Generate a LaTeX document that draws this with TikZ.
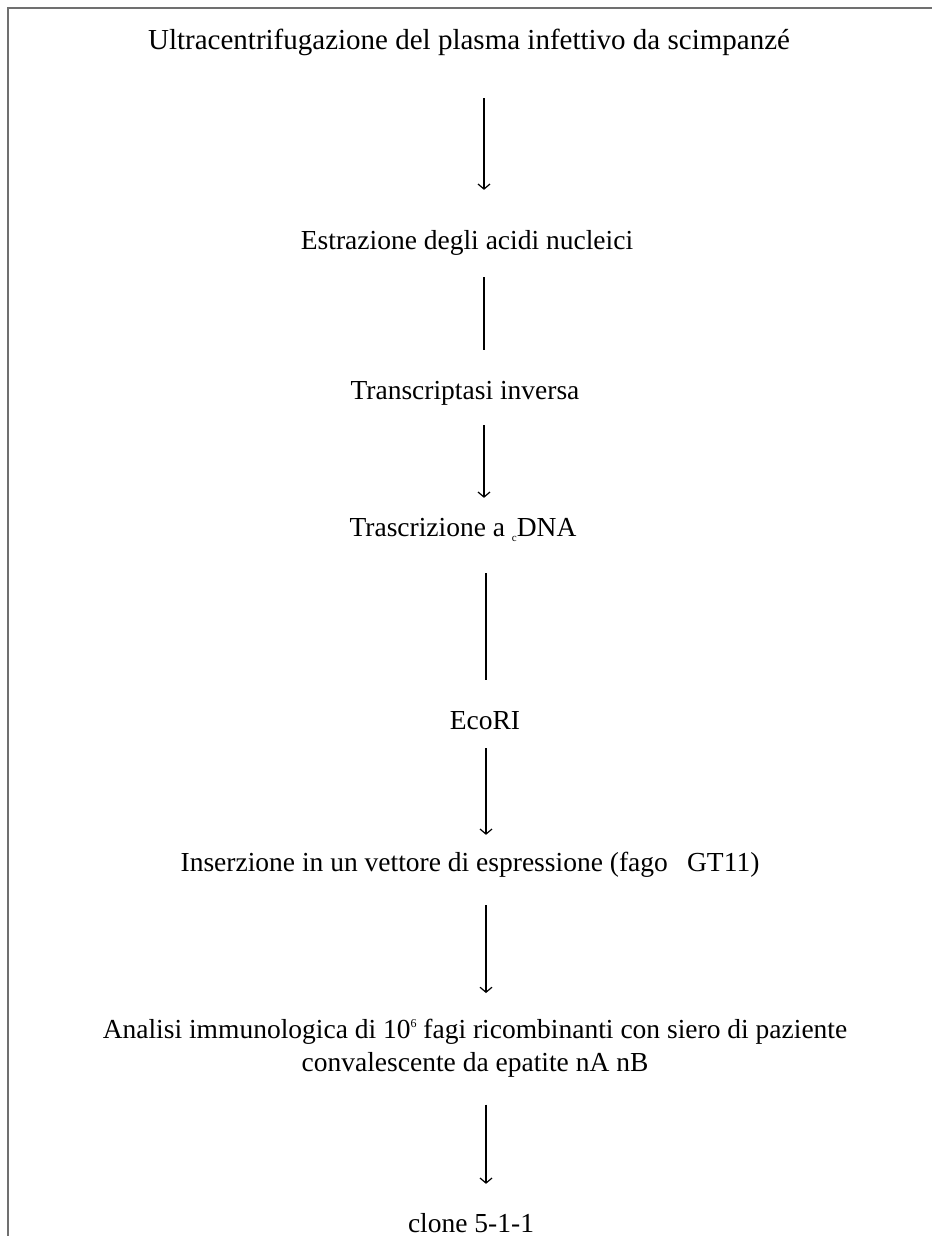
\documentclass[tikz,border=0pt]{standalone}
\usepackage{fontspec}
\setmainfont{Liberation Serif}
\usetikzlibrary{positioning, arrows.meta}
\definecolor{framegray}{HTML}{707070}
\newcommand{\tinysub}[1]{\raisebox{-5pt}{\fontsize{11}{11}\selectfont #1}}
\newcommand{\tinysup}[1]{\raisebox{11pt}{\fontsize{12}{12}\selectfont #1}}

\begin{document}
\begin{tikzpicture}[
  x=1pt, y=-1pt,
  font=\fontsize{27.5}{33}\selectfont,
  stage/.style={
    inner sep=0pt, anchor=base, align=center,
    text height=20pt, text depth=6pt
  },
  flow/.style={-{Straight Barb[length=5pt, width=12pt, line width=1.2pt]}, line width=2.4pt},
  plain/.style={line width=2.4pt},
  thin/.style={line width=1.3pt},
]
\useasboundingbox (0,0) rectangle (932,1236);
\draw[framegray, line width=2pt] (8,1236) -- (8,8) -- (932,8);

\coordinate (ax) at (484,0);

\node[stage, font=\fontsize{29}{33}\selectfont] (ultra) at (469,50) {Ultracentrifugazione del plasma infettivo da scimpanzé};
\node[stage] (estr) at (467,249) {Estrazione degli acidi nucleici};
\node[stage] (trans) at (465,399) {Transcriptasi inversa};
\node[stage] (cdna) at (463,536) {Trascrizione a \tinysub{c}DNA};
\node[stage] (ecori) at (485,729) {EcoRI};
\node[stage] (inser) at (470,871) {Inserzione in un vettore di espressione (fago\hspace{0.7em}GT11)};
\node[stage, anchor=north, text height=, text depth=] (anal) at (475,1019)
  {Analisi immunologica di 10\tinysup{6} fagi ricombinanti con siero di paziente\\
   convalescente da epatite nA nB};
\node[stage] (clone) at (471,1232) {clone 5-1-1};

\draw[flow, shorten <=42pt, shorten >=39pt] (ultra.south -| ax) -- (estr.north -| ax);
\draw[plain, shorten <=22pt, shorten >=29pt] (estr.south -| ax) -- (trans.north -| ax);
\draw[flow, shorten <=20pt, shorten >=18pt] (trans.south -| ax) -- (cdna.north -| ax);
\draw[thin, shorten <=31pt, shorten >=29pt] ([xshift=2pt]cdna.south -| ax) -- ([xshift=2pt]ecori.north -| ax);
\draw[flow, shorten <=13pt, shorten >=16pt] ([xshift=2pt]ecori.south -| ax) -- ([xshift=2pt]inser.north -| ax);
\draw[flow, shorten <=28pt, shorten >=26pt] ([xshift=2pt]inser.south -| ax) -- ([xshift=2pt]anal.north -| ax);
\draw[flow, shorten <=27pt, shorten >=28pt] ([xshift=2pt]anal.south -| ax) -- ([xshift=2pt]clone.north -| ax);

\end{tikzpicture}
\end{document}
